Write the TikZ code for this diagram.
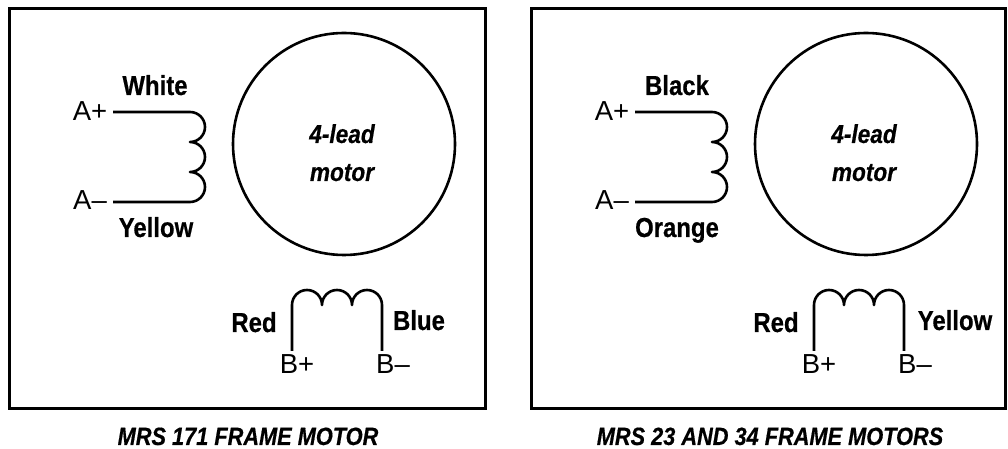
\documentclass[tikz,border=0pt]{standalone}
\usepackage{fontspec}
\setmainfont{Liberation Sans}
\newfontfamily\narrowfont[BoldFeatures={FakeStretch=0.87,FakeBold=0.5},BoldItalicFeatures={FakeStretch=0.87,FakeBold=0.5}]{Liberation Sans}
\begin{document}
\begin{tikzpicture}[x=1pt, y=1pt, line cap=butt, line join=round,
	wire/.style={line width=2.6pt},
	framebox/.style={line width=3pt, line join=miter},
	lead/.style={anchor=base, inner sep=0pt, font=\fontsize{27.5}{28}\selectfont},
	wirename/.style={anchor=base, inner sep=0pt, font=\narrowfont\bfseries\fontsize{27.5}{28}\selectfont},
	motortext/.style={anchor=base, inner sep=0pt, font=\narrowfont\bfseries\itshape\fontsize{26}{26}\selectfont},
	caption/.style={anchor=base, inner sep=0pt, font=\narrowfont\bfseries\itshape\fontsize{25}{28}\selectfont}]
\useasboundingbox (0,0) rectangle (1008,449);
%========================
% Left: 171 frame
%========================
\begin{scope}[shift={(0,0)}]
	\draw[framebox] (9.5,40) rectangle (485.5,440.5);
	\draw[wire] (344,305) circle (111);
	\node[motortext] (lefttop) at (342,306) {4-lead};
	\node[motortext] (leftbot) at (342,268) {motor};
	% phase A
	\node[lead] (leftap) at (90,328) {A+};
	\node[lead] (leftam) at (90,239) {A--};
	\node[wirename] (leftwa) at (155,354) {White};
	\node[wirename] (leftwb) at (156,212) {Yellow};
	\coordinate (leftaa) at (113,337);
	\coordinate (leftab) at (113,247);
	\draw[wire] (leftaa) -- (190,337) arc (90:-90:15) arc (90:-90:15) arc (90:-90:15) -- (leftab);
	% phase B
	\node[lead] (leftbp) at (297,75) {B+};
	\node[lead] (leftbm) at (393,75) {B--};
	\node[wirename] (leftwc) at (254,117) {Red};
	\node[wirename] (leftwd) at (419,119) {Blue};
	\coordinate (leftba) at (292,98);
	\coordinate (leftbb) at (382,98);
	\draw[wire] (leftba) -- (292,144) arc (180:0:15) arc (180:0:15) arc (180:0:15) -- (leftbb);
	\node[caption] (leftcap) at (248,4) {MRS 171 FRAME MOTOR};
\end{scope}

%========================
% Right: 23 and 34 frames
%========================
\begin{scope}[shift={(522,0)}]
	\draw[framebox] (9.5,40) rectangle (483,440.5);
	\draw[wire] (344,305) circle (111);
	\node[motortext] (righttop) at (342,306) {4-lead};
	\node[motortext] (rightbot) at (342,268) {motor};
	% phase A
	\node[lead] (rightap) at (90,328) {A+};
	\node[lead] (rightam) at (90,239) {A--};
	\node[wirename] (rightwa) at (155,354) {Black};
	\node[wirename] (rightwb) at (155,212) {Orange};
	\coordinate (rightaa) at (113,337);
	\coordinate (rightab) at (113,247);
	\draw[wire] (rightaa) -- (190,337) arc (90:-90:15) arc (90:-90:15) arc (90:-90:15) -- (rightab);
	% phase B
	\node[lead] (rightbp) at (297,75) {B+};
	\node[lead] (rightbm) at (393,75) {B--};
	\node[wirename] (rightwc) at (254,117) {Red};
	\node[wirename] (rightwd) at (433,119) {Yellow};
	\coordinate (rightba) at (292,98);
	\coordinate (rightbb) at (382,98);
	\draw[wire] (rightba) -- (292,144) arc (180:0:15) arc (180:0:15) arc (180:0:15) -- (rightbb);
	\node[caption] (rightcap) at (248,4) {MRS 23 AND 34 FRAME MOTORS};
\end{scope}
\end{tikzpicture}
\end{document}
